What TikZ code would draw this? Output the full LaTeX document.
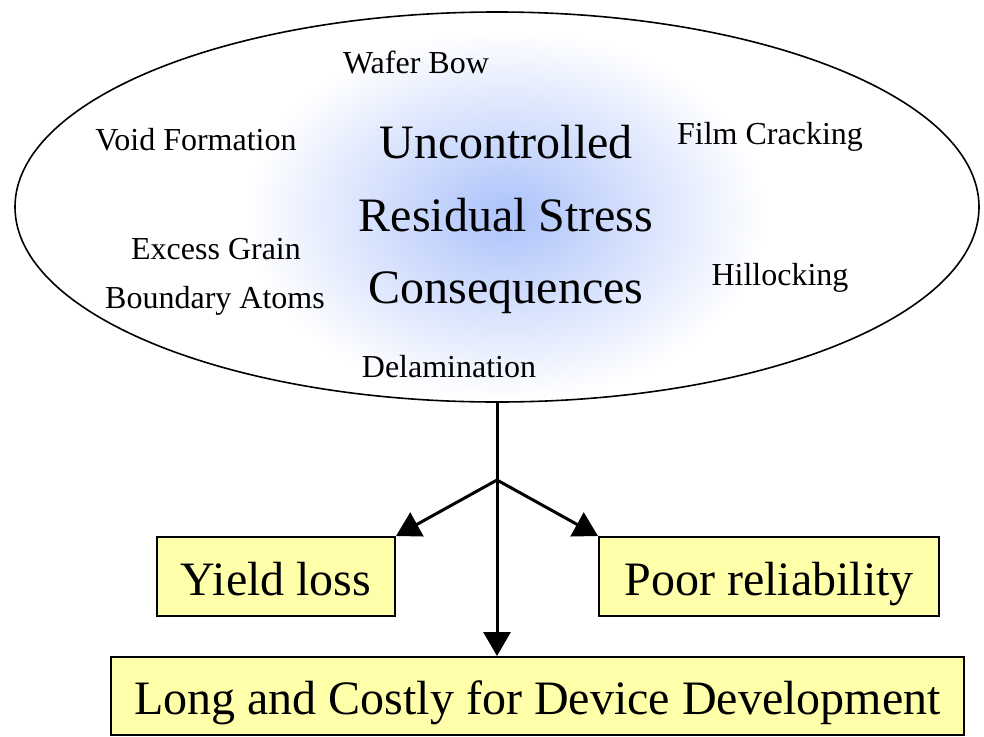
\documentclass[tikz,border=0pt]{standalone}
\usepackage{fontspec}
\setmainfont{Liberation Serif}
\usetikzlibrary{arrows.meta}
\usetikzlibrary{shapes.geometric}

\definecolor{glowblue}{RGB}{172,194,250}
\definecolor{boxyellow}{RGB}{255,255,170}
\pgfdeclareradialshading{glow}{\pgfpoint{0bp}{0bp}}{color(0bp)=(glowblue); color(5bp)=(glowblue!80!white); color(25bp)=(white); color(50bp)=(white)}

\tikzset{
  effect/.style = {inner sep = 0pt, anchor = base, font = \fontsize{32}{38}\selectfont},
  result/.style = {draw, line width = 2pt, fill = boxyellow, inner sep = 0pt, minimum height = 79pt,
                   text height = 40pt, text depth = 3pt, font = \fontsize{48}{56}\selectfont},
  flow/.style   = {line width = 3pt, -{Triangle[width = 27pt, length = 24pt]}}
}

\begin{document}
\begin{tikzpicture}[x = 1pt, y = -1pt]
\useasboundingbox (0,0) rectangle (984,736);

% glow behind the title
\shade[shading = glow] (506,215) ellipse [x radius = 260, y radius = 185];

\node[draw, ellipse, line width = 1.6pt, minimum width = 964pt, minimum height = 390pt, inner sep = 0pt] (cloud) at (497,207) {};

\node[align = center, inner sep = 0pt, font = \fontsize{48}{72.5}\selectfont] (title) at (506,219.5) {Uncontrolled\\Residual Stress\\Consequences};

\node[effect] (bow) at (416,73) {Wafer Bow};
\node[effect] (void) at (196,150) {Void Formation};
\node[effect] (crack) at (770,144) {Film Cracking};
\node[effect] (grain) at (216,259) {Excess Grain};
\node[effect] (atoms) at (215,308) {Boundary Atoms};
\node[effect] (hill) at (780,285) {Hillocking};
\node[effect] (delam) at (449,377) {Delamination};

\node[result, minimum width = 238pt] (yield) at (276,576.5) {Yield loss};
\node[result, minimum width = 340pt] (poor) at (769,576.5) {Poor reliability};
\node[result, minimum width = 853pt, minimum height = 78pt] (long) at (537.5,696) {Long and Costly for Device Development};

\coordinate (split) at (497,480);

\draw[flow] (cloud.south) -- (cloud.south |- long.north);
\draw[flow] (split) -- (yield.north east);
\draw[flow] (split) -- (poor.north west);

\end{tikzpicture}
\end{document}
